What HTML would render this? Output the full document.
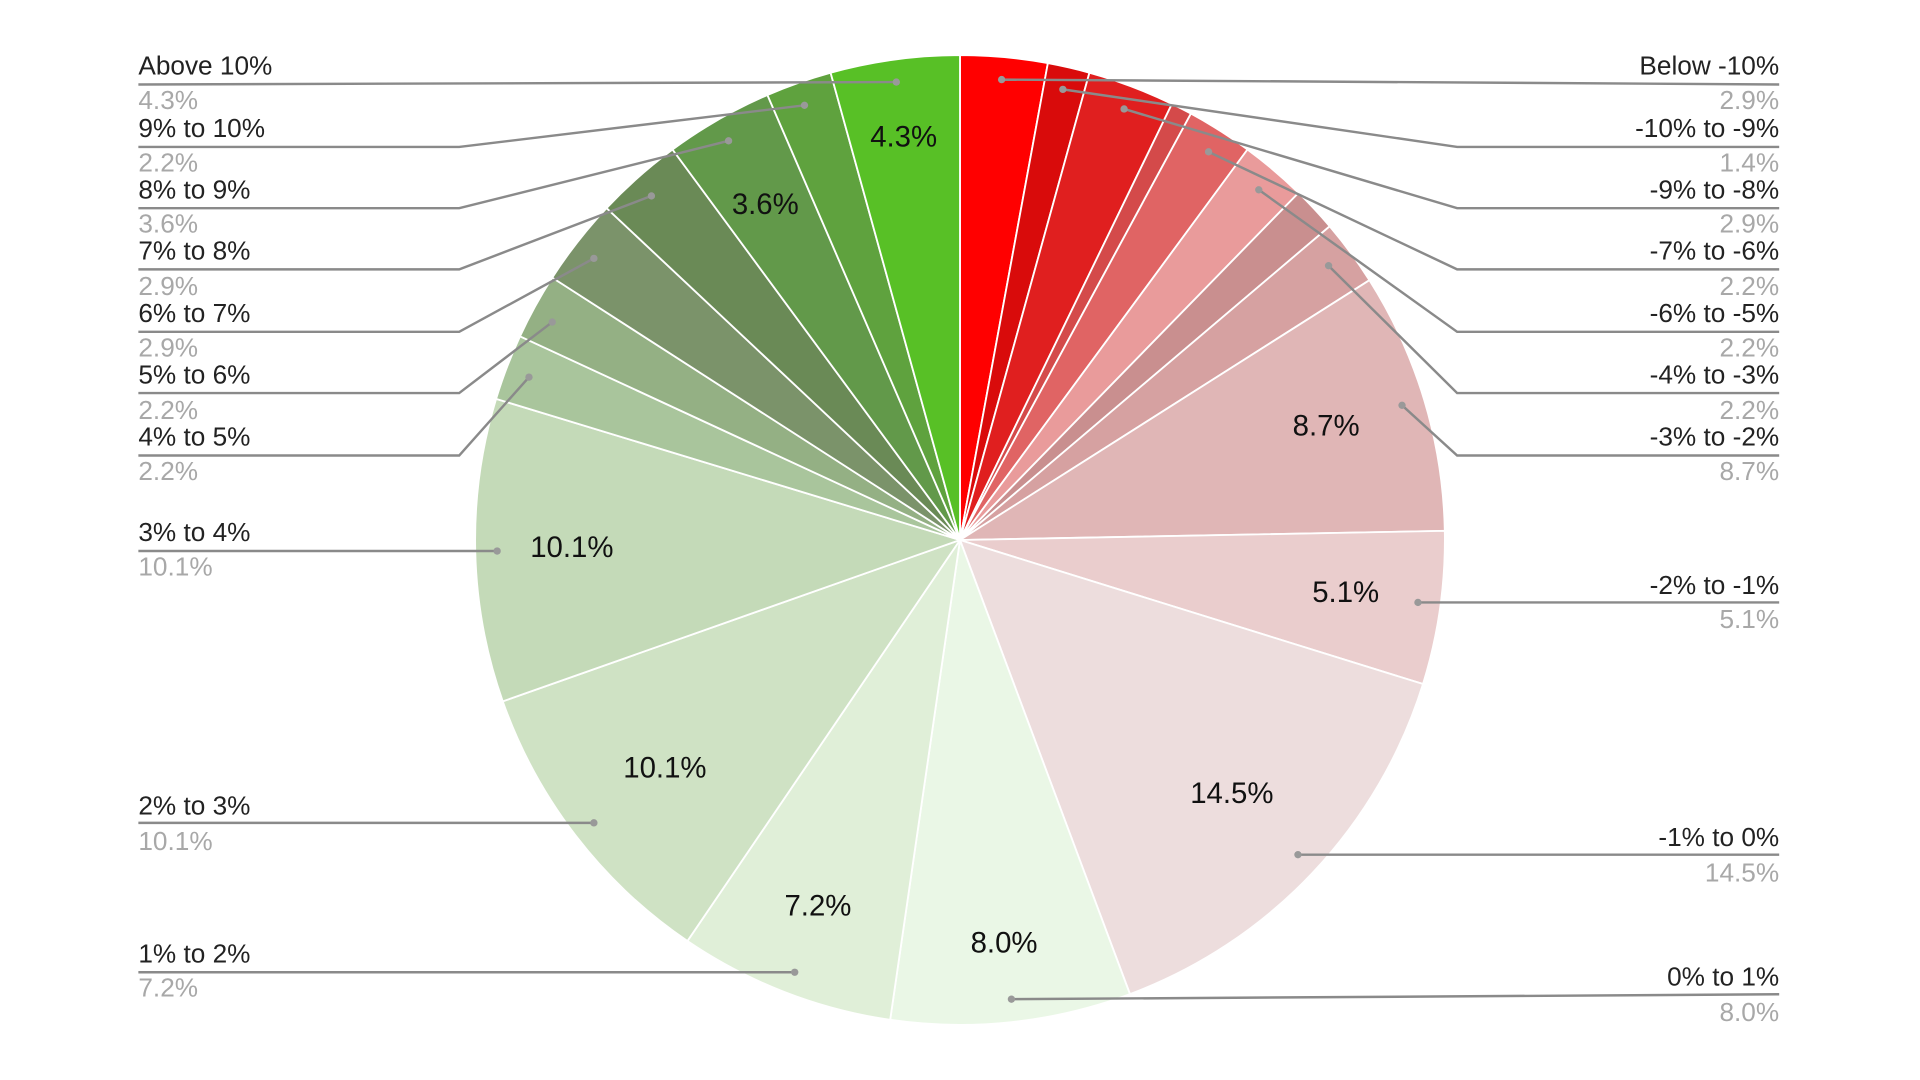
<!DOCTYPE html>
<html><head><meta charset="utf-8"><style>
html,body{margin:0;padding:0;background:#fff;}
svg{display:block;}
text{font-family:"Liberation Sans",Arial,sans-serif;}
.l{font-size:21.4px;fill:#222;}
.v{font-size:21.4px;fill:#a8a8a8;}
.in{font-size:24px;fill:#111;text-anchor:middle;dominant-baseline:central;}
.ln{stroke:#8a8a8a;stroke-width:2;fill:none;}
.dt{fill:#999;}
</style></head><body>
<svg id="s" width="1920" height="1080" viewBox="0 0 1568 882" preserveAspectRatio="none" xmlns="http://www.w3.org/2000/svg">
<g id="pie"></g>
<g>
<polyline class="ln" points="113,69 732,67"/>
<polyline class="ln" points="113,120 375,120 657,86"/>
<polyline class="ln" points="113,170 375,170 595,115"/>
<polyline class="ln" points="113,220 375,220 532,160"/>
<polyline class="ln" points="113,271 375,271 485,211"/>
<polyline class="ln" points="113,321 375,321 451,263"/>
<polyline class="ln" points="113,372 375,372 432,308"/>
<polyline class="ln" points="113,450 406,450"/>
<polyline class="ln" points="113,672 485,672"/>
<polyline class="ln" points="113,794 649,794"/>
<polyline class="ln" points="1453,69 818,65"/>
<polyline class="ln" points="1453,120 1190,120 868,73"/>
<polyline class="ln" points="1453,170 1190,170 918,89"/>
<polyline class="ln" points="1453,220 1190,220 987,124"/>
<polyline class="ln" points="1453,271 1190,271 1028,155"/>
<polyline class="ln" points="1453,321 1190,321 1085,217"/>
<polyline class="ln" points="1453,372 1190,372 1145,331"/>
<polyline class="ln" points="1453,492 1158,492"/>
<polyline class="ln" points="1453,698 1060,698"/>
<polyline class="ln" points="1453,812 826,816"/>
</g>
<g class="dt">
<circle cx="732" cy="67" r="3"/><circle cx="657" cy="86" r="3"/><circle cx="595" cy="115" r="3"/><circle cx="532" cy="160" r="3"/><circle cx="485" cy="211" r="3"/><circle cx="451" cy="263" r="3"/><circle cx="432" cy="308" r="3"/><circle cx="406" cy="450" r="3"/><circle cx="485" cy="672" r="3"/><circle cx="649" cy="794" r="3"/>
<circle cx="818" cy="65" r="3"/><circle cx="868" cy="73" r="3"/><circle cx="918" cy="89" r="3"/><circle cx="987" cy="124" r="3"/><circle cx="1028" cy="155" r="3"/><circle cx="1085" cy="217" r="3"/><circle cx="1145" cy="331" r="3"/><circle cx="1158" cy="492" r="3"/><circle cx="1060" cy="698" r="3"/><circle cx="826" cy="816" r="3"/>
</g>
<g>
<text class="l" x="113" y="61">Above 10%</text><text class="v" x="113" y="89">4.3%</text>
<text class="l" x="113" y="112">9% to 10%</text><text class="v" x="113" y="140">2.2%</text>
<text class="l" x="113" y="162">8% to 9%</text><text class="v" x="113" y="190">3.6%</text>
<text class="l" x="113" y="212">7% to 8%</text><text class="v" x="113" y="241">2.9%</text>
<text class="l" x="113" y="263">6% to 7%</text><text class="v" x="113" y="291">2.9%</text>
<text class="l" x="113" y="313">5% to 6%</text><text class="v" x="113" y="342">2.2%</text>
<text class="l" x="113" y="364">4% to 5%</text><text class="v" x="113" y="392">2.2%</text>
<text class="l" x="113" y="442">3% to 4%</text><text class="v" x="113" y="470">10.1%</text>
<text class="l" x="113" y="665">2% to 3%</text><text class="v" x="113" y="694">10.1%</text>
<text class="l" x="113" y="786">1% to 2%</text><text class="v" x="113" y="814">7.2%</text>
</g>
<g text-anchor="end">
<text class="l" x="1453" y="61">Below -10%</text><text class="v" x="1453" y="89">2.9%</text>
<text class="l" x="1453" y="112">-10% to -9%</text><text class="v" x="1453" y="140">1.4%</text>
<text class="l" x="1453" y="162">-9% to -8%</text><text class="v" x="1453" y="190">2.9%</text>
<text class="l" x="1453" y="212">-7% to -6%</text><text class="v" x="1453" y="241">2.2%</text>
<text class="l" x="1453" y="263">-6% to -5%</text><text class="v" x="1453" y="291">2.2%</text>
<text class="l" x="1453" y="313">-4% to -3%</text><text class="v" x="1453" y="342">2.2%</text>
<text class="l" x="1453" y="364">-3% to -2%</text><text class="v" x="1453" y="392">8.7%</text>
<text class="l" x="1453" y="485">-2% to -1%</text><text class="v" x="1453" y="513">5.1%</text>
<text class="l" x="1453" y="691">-1% to 0%</text><text class="v" x="1453" y="720">14.5%</text>
<text class="l" x="1453" y="805">0% to 1%</text><text class="v" x="1453" y="834">8.0%</text>
</g>
<g>
<text class="in" x="738" y="112">4.3%</text>
<text class="in" x="625" y="167">3.6%</text>
<text class="in" x="1083" y="348">8.7%</text>
<text class="in" x="1099" y="484">5.1%</text>
<text class="in" x="1006" y="648">14.5%</text>
<text class="in" x="820" y="770">8.0%</text>
<text class="in" x="668" y="740">7.2%</text>
<text class="in" x="467" y="447">10.1%</text>
<text class="in" x="543" y="627">10.1%</text>
</g>
</svg>
<script>
var d=[[2.9,"#ff0000"],[1.4,"#d90b0b"],[2.9,"#e01f1f"],[0.7,"#d44a4a"],[2.2,"#e06464"],[2.2,"#e99b9b"],[1.5,"#c98f8f"],[2.2,"#d6a1a1"],[8.7,"#e0b6b6"],[5.1,"#eacdcd"],[14.5,"#eddddd"],[8.0,"#eaf7e6"],[7.2,"#e0efd8"],[10.1,"#cfe2c4"],[10.1,"#c4dab8"],[2.2,"#a9c59c"],[2.2,"#94b084"],[2.9,"#7b936a"],[2.9,"#6a8a56"],[3.6,"#62994a"],[2.2,"#5fa23e"],[4.3,"#58c026"]];
var cx=784,cy=441,r=396,a=0,h="";
for(var i=0;i<d.length;i++){var b=a+d[i][0]/100*2*Math.PI;
var x1=cx+r*Math.sin(a),y1=cy-r*Math.cos(a),x2=cx+r*Math.sin(b),y2=cy-r*Math.cos(b);
h+='<path d="M'+cx+','+cy+' L'+x1.toFixed(2)+','+y1.toFixed(2)+' A'+r+','+r+' 0 '+((b-a)>Math.PI?1:0)+' 1 '+x2.toFixed(2)+','+y2.toFixed(2)+' Z" fill="'+d[i][1]+'" stroke="#fff" stroke-width="1.5"/>';a=b;}
document.getElementById("pie").innerHTML=h;
</script>
</body></html>
